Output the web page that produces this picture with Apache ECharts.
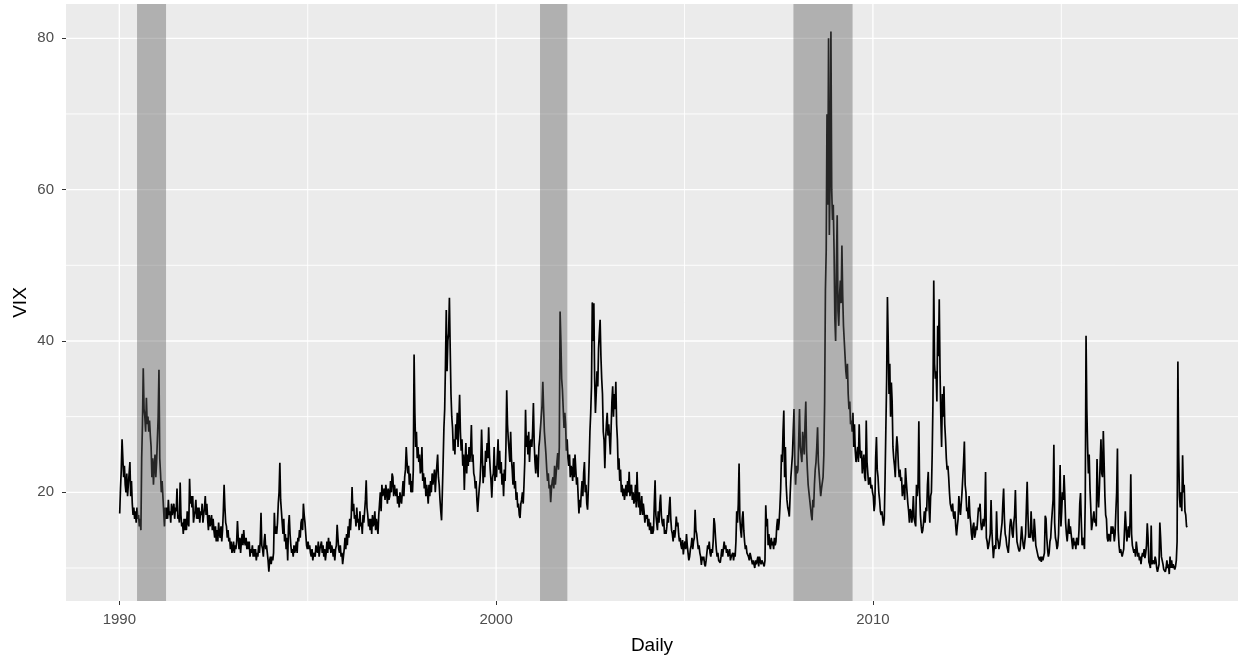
<!DOCTYPE html>
<html>
<head>
<meta charset="utf-8">
<title>VIX daily</title>
<script src="https://cdn.jsdelivr.net/npm/echarts@6/dist/echarts.min.js"></script>
<style>
  html, body { margin: 0; padding: 0; background: #ffffff; }
  #chart { width: 1238px; height: 657px; }
</style>
</head>
<body>
<div id="chart"></div>
<script>
// VIX closing levels, four readings per month (Jan..Dec), one array per year
const vix1990 = [17.2,20.5,23.0,27.0, 24.5,22.0,23.5,21.0, 20.0,22.5,19.5,21.0, 21.0,24.0,19.5,21.5, 18.5,17.0,18.0,16.5, 17.5,16.0,18.0,16.5, 17.0,15.5,16.5,15.0, 24.5,29.0,36.4,31.0, 30.0,28.0,32.5,29.0, 30.0,28.0,29.5,27.5, 26.0,22.0,24.5,21.0, 23.5,25.0,22.0,24.0];
const vix1991 = [27.0,30.0,36.2,24.5, 22.5,20.0,21.5,19.5, 17.5,15.5,18.0,16.5, 18.0,16.5,19.0,17.0, 17.5,16.0,18.5,17.0, 17.0,18.5,16.5,18.0, 17.5,20.5,16.5,17.0, 16.0,21.3,17.0,15.5, 16.0,14.5,16.5,15.0, 16.5,15.0,17.5,16.0, 15.5,21.8,18.5,19.5, 18.0,19.5,16.0,17.0];
const vix1992 = [17.5,19.0,16.5,18.0, 16.5,18.0,16.0,17.5, 17.0,18.5,16.0,17.0, 18.0,19.5,17.0,18.5, 16.5,15.0,17.0,15.5, 16.0,17.0,15.0,16.5, 15.0,14.0,15.5,13.5, 15.0,13.5,16.0,14.5, 14.0,15.5,13.5,15.0, 17.5,21.0,18.0,16.0, 15.5,14.0,15.0,13.5, 14.0,12.5,13.5,12.0];
const vix1993 = [12.5,13.5,12.0,13.0, 12.5,13.5,16.2,14.0, 12.5,14.0,12.0,13.5, 14.5,13.0,15.0,13.5, 13.0,14.0,12.5,13.5, 12.5,13.5,11.5,12.5, 12.0,13.0,11.5,12.5, 11.5,12.5,11.0,12.0, 11.5,13.0,12.0,13.5, 17.3,13.0,12.5,11.5, 13.5,14.5,12.5,13.0, 12.0,11.0,9.5,11.0];
const vix1994 = [11.5,10.5,11.5,11.0, 12.0,17.3,14.5,15.5, 14.5,16.0,18.5,20.0, 23.9,19.0,17.5,16.0, 14.5,16.5,13.5,14.5, 12.5,14.0,11.0,15.5, 17.0,14.5,13.0,12.0, 12.5,11.5,13.0,12.0, 12.5,13.5,12.0,14.0, 13.5,15.0,14.0,16.0, 16.5,15.0,18.5,17.0, 16.0,14.5,13.0,12.5];
const vix1995 = [13.5,12.5,13.0,12.0, 11.5,12.5,11.0,12.0, 12.0,11.5,13.0,12.5, 12.0,13.5,11.5,12.5, 12.5,13.5,12.0,13.0, 11.5,12.5,11.0,12.0, 13.5,12.0,14.0,12.5, 13.5,12.0,13.0,12.5, 11.5,12.5,11.0,12.5, 13.0,15.7,14.0,12.5, 12.0,13.0,11.5,12.0, 10.5,11.5,12.5,14.0];
const vix1996 = [12.5,14.5,13.0,15.5, 14.0,16.5,15.0,17.0, 20.7,17.5,18.5,16.5, 17.0,15.5,18.0,16.0, 16.5,15.0,17.5,15.5, 16.0,14.5,17.0,16.0, 17.5,19.0,21.6,18.0, 17.0,15.5,16.5,15.0, 16.5,14.5,17.0,15.5, 16.0,17.5,15.0,16.5, 16.5,14.5,17.0,18.5, 20.0,17.5,21.0,19.5];
const vix1997 = [19.5,20.5,19.0,21.0, 20.0,18.5,20.5,19.0, 19.5,21.5,20.0,22.5, 22.0,19.5,21.0,20.0, 19.5,20.5,18.5,19.5, 18.0,20.0,19.0,18.5, 20.0,21.5,19.5,22.0, 23.0,26.0,24.0,22.5, 23.5,21.0,22.5,20.0, 21.5,20.0,23.0,38.2, 30.5,26.0,28.0,24.5, 26.0,24.0,25.0,22.5];
const vix1998 = [23.0,26.0,21.5,22.5, 20.5,22.0,19.5,21.0, 20.0,18.5,21.0,19.5, 21.5,20.0,22.5,21.0, 21.0,23.0,20.0,22.0, 23.5,25.0,22.0,21.0, 19.0,17.5,16.3,20.0, 24.0,28.5,31.0,37.0, 44.1,36.0,40.0,41.0, 45.7,39.0,33.0,30.0, 28.5,25.5,27.0,25.0, 29.0,27.0,30.5,26.0];
const vix1999 = [26.0,32.9,28.0,25.5, 27.0,23.5,25.0,20.3, 24.0,26.5,22.5,25.0, 23.5,26.0,24.0,25.5, 28.9,24.0,25.0,22.5, 22.0,20.5,21.5,19.0, 17.4,19.0,20.5,21.5, 24.0,28.3,24.5,21.2, 23.5,22.0,25.5,24.0, 26.5,24.5,28.6,25.0, 23.0,21.5,19.3,22.0, 22.5,26.0,21.5,23.5];
const vix2000 = [22.0,24.5,27.0,23.0, 25.5,22.5,24.0,21.0, 22.5,19.5,23.0,21.5, 26.0,33.5,29.0,27.0, 25.5,24.0,28.0,24.5, 23.0,21.0,24.0,20.5, 21.5,19.0,20.0,18.0, 18.5,17.0,16.6,18.5, 19.0,20.0,18.5,21.0, 24.0,30.9,26.0,27.5, 25.0,28.0,24.0,26.5, 27.0,26.0,28.0,31.8];
const vix2001 = [26.5,24.0,22.5,25.0, 24.0,22.0,26.0,27.0, 27.0,30.0,31.5,34.6, 31.0,28.0,26.5,25.0, 23.0,21.5,22.5,20.5, 21.0,18.7,20.5,21.5, 22.0,20.5,23.5,21.0, 22.5,24.0,25.2,23.0, 26.0,43.9,40.0,35.0, 33.5,31.0,28.5,30.5, 29.0,25.5,27.0,24.5, 23.5,25.0,22.0,23.5];
const vix2002 = [23.0,21.5,24.5,22.0, 25.0,23.0,21.0,22.0, 19.5,17.2,19.0,18.0, 20.0,21.5,19.5,22.5, 24.0,20.0,21.0,18.5, 17.7,20.5,24.0,28.0, 30.5,34.0,45.1,40.0, 45.0,35.0,30.5,33.0, 36.0,34.0,39.0,41.0, 42.8,38.0,35.0,33.0, 28.0,26.9,23.2,27.0, 29.0,30.5,27.5,29.0];
const vix2003 = [27.0,25.0,28.5,32.0, 34.0,30.0,33.0,31.0, 34.6,29.0,27.0,23.0, 24.5,21.5,23.0,20.0, 21.0,19.5,20.5,19.0, 20.0,21.0,19.5,21.5, 20.0,22.7,19.5,20.5, 21.0,19.0,20.0,18.5, 19.0,21.0,18.0,22.7, 19.5,18.0,20.0,17.0, 18.0,19.5,17.0,18.5, 17.5,16.0,17.0,16.5];
const vix2004 = [17.0,15.5,16.5,15.0, 16.0,14.5,15.5,14.5, 15.0,18.5,21.6,17.0, 16.0,15.0,17.5,16.0, 18.5,19.7,17.0,16.0, 15.5,16.5,14.5,15.0, 14.5,15.5,17.0,16.0, 18.0,19.4,16.5,15.0, 14.5,13.5,15.0,14.0, 15.0,16.8,15.5,16.0, 14.5,13.5,14.0,13.0, 12.5,13.7,11.8,13.0];
const vix2005 = [13.5,12.5,14.5,13.0, 12.0,11.0,11.5,12.5, 13.0,14.0,12.5,13.5, 14.0,17.7,15.0,14.5, 13.5,12.5,13.0,12.0, 11.5,10.4,11.5,11.0, 11.5,10.5,10.2,11.0, 12.0,13.0,12.5,13.5, 12.0,11.5,12.5,12.0, 13.5,16.6,15.8,14.0, 12.5,11.5,12.0,11.0, 11.0,10.7,11.5,12.5];
const vix2006 = [11.5,12.5,13.5,12.5, 13.0,12.0,12.5,11.5, 11.5,12.5,11.0,11.5, 11.5,12.0,11.0,12.0, 11.5,13.5,17.5,16.0, 18.5,23.8,16.5,15.0, 14.0,16.5,17.5,15.0, 13.5,12.5,13.0,12.0, 12.0,11.5,11.0,12.0, 11.5,11.0,10.5,11.0, 10.5,10.0,11.0,10.5, 10.5,11.5,10.2,11.5];
const vix2007 = [11.5,10.5,11.0,10.8, 10.5,10.2,11.0,18.3, 15.5,16.5,13.0,14.5, 13.0,12.5,14.0,13.0, 13.5,12.5,14.0,13.0, 13.5,15.5,16.5,15.0, 16.0,18.0,20.5,25.0, 24.0,28.0,30.8,22.0, 26.0,21.0,19.0,18.0, 17.5,16.8,19.5,22.0, 22.0,25.0,28.0,31.0, 24.0,21.0,23.5,22.5];
const vix2008 = [23.0,27.0,31.0,26.0, 25.0,24.0,28.0,26.5, 25.0,29.0,32.0,25.5, 23.0,21.0,20.0,19.0, 18.0,17.0,16.3,19.0, 18.0,21.0,23.0,24.0, 26.0,28.6,24.0,22.5, 21.0,19.5,20.5,20.5, 22.0,25.0,32.0,46.7, 52.0,69.95,58.0,80.0, 54.0,62.0,80.9,60.0, 56.0,58.0,52.0,43.0];
const vix2009 = [40.0,50.0,56.6,44.0, 42.0,46.0,48.0,45.0, 52.6,46.0,42.0,40.0, 38.0,36.0,35.0,37.0, 33.0,31.0,32.0,29.0, 29.5,28.0,30.5,26.0, 29.0,25.5,24.0,25.0, 26.0,24.0,29.0,25.5, 24.5,25.5,22.5,24.0, 25.0,22.0,21.5,29.5, 24.0,22.5,21.0,21.5, 22.0,20.5,21.0,20.0];
const vix2010 = [19.5,17.5,18.5,24.5, 27.3,23.0,22.0,20.0, 19.0,17.5,17.0,17.5, 16.5,15.6,16.5,22.0, 22.0,35.0,45.8,40.0, 33.0,37.0,30.0,34.5, 32.0,26.0,24.5,23.5, 22.0,25.5,27.4,26.0, 23.5,22.0,23.0,21.5, 22.0,19.5,20.5,21.0, 19.0,23.2,21.5,20.0, 18.5,17.5,16.0,17.8];
const vix2011 = [17.5,16.0,17.0,19.5, 16.5,16.0,15.5,21.0, 19.5,21.0,29.4,20.0, 17.0,15.5,14.6,15.0, 16.0,17.5,16.0,18.0, 17.5,21.0,22.7,18.0, 16.0,19.5,20.0,25.0, 32.0,48.0,37.0,35.0, 36.0,32.0,42.0,38.0, 45.5,36.0,30.0,26.0, 33.0,30.0,34.0,29.0, 27.0,24.5,23.0,23.5];
const vix2012 = [22.0,20.0,18.5,18.0, 17.5,18.5,17.0,16.5, 17.5,15.5,14.3,15.5, 16.5,19.5,18.0,17.0, 17.0,20.0,22.0,24.0, 26.7,21.0,20.0,17.5, 18.0,16.5,19.5,17.0, 16.0,14.5,13.7,15.5, 16.0,14.0,14.5,15.5, 15.0,16.5,18.0,17.5, 18.5,16.0,15.0,15.5, 16.5,15.5,17.0,22.7];
const vix2013 = [14.0,13.5,12.5,13.0, 12.9,14.5,19.0,15.0, 13.0,11.3,12.7,13.0, 12.5,17.5,14.0,13.5, 12.5,13.0,14.0,15.0, 16.0,18.5,20.5,16.5, 14.5,14.0,13.0,12.5, 12.0,13.5,15.5,16.5, 16.0,14.5,14.0,16.0, 17.0,20.3,16.0,13.5, 13.0,12.5,12.2,12.5, 14.0,15.5,14.0,13.0];
const vix2014 = [12.5,12.5,14.5,18.0, 21.4,17.0,14.0,14.5, 14.0,17.5,15.0,14.0, 13.5,16.5,15.0,13.0, 13.0,12.0,11.5,11.5, 11.0,11.5,10.8,11.5, 11.0,11.5,12.0,16.9, 16.5,14.0,12.5,11.5, 12.0,13.5,14.0,16.0, 16.0,19.0,26.3,16.0, 14.0,13.5,12.5,13.0, 14.5,19.0,23.6,15.5];
const vix2015 = [17.5,20.0,19.0,22.3, 19.5,16.0,14.5,13.5, 15.0,16.5,14.5,15.5, 14.5,13.5,12.5,14.0, 13.0,13.5,12.5,14.0, 14.0,13.0,15.0,18.5, 19.9,16.0,13.0,14.0, 13.5,12.5,19.0,40.7, 31.0,26.0,22.5,25.0, 20.5,18.0,15.0,15.0, 15.0,17.5,16.0,16.5, 15.5,24.4,20.0,18.0];
const vix2016 = [20.5,24.0,27.0,22.5, 22.0,28.1,24.0,19.5, 17.0,16.5,14.0,13.5, 14.5,14.0,13.5,15.5, 14.5,15.5,15.0,13.5, 14.5,17.5,20.0,25.8, 15.0,13.0,12.0,12.5, 12.5,11.5,12.0,12.5, 12.5,17.5,15.5,13.5, 13.5,15.5,14.0,16.0, 22.4,14.5,13.0,12.5, 12.0,12.5,11.5,13.5];
const vix2017 = [12.5,11.5,12.0,11.0, 11.5,10.5,11.5,12.0, 11.5,12.5,11.3,12.0, 13.0,15.9,14.0,10.8, 10.5,10.0,15.6,10.5, 10.5,11.0,10.5,11.5, 11.0,10.0,9.5,10.0, 10.5,16.0,14.0,11.5, 11.0,10.5,9.8,10.0, 9.5,10.0,11.0,10.0, 10.5,9.2,11.5,10.0, 11.0,10.0,10.5,10.5];
const vix2018 = [9.8,10.2,11.0,13.5, 37.3,25.0,19.5,18.0, 20.0,17.5,24.9,20.0, 21.0,17.5,17.0,15.5, 15.4];

const years = [1990,1991,1992,1993,1994,1995,1996,1997,1998,1999,2000,2001,2002,2003,
               2004,2005,2006,2007,2008,2009,2010,2011,2012,2013,2014,2015,2016,2017,2018];
const yearly = [vix1990,vix1991,vix1992,vix1993,vix1994,vix1995,vix1996,vix1997,vix1998,vix1999,
                vix2000,vix2001,vix2002,vix2003,vix2004,vix2005,vix2006,vix2007,vix2008,vix2009,
                vix2010,vix2011,vix2012,vix2013,vix2014,vix2015,vix2016,vix2017,vix2018];
const stepsPerYear = 48;

// NBER recessions, in decimal years
const recessionStart = [1990.47, 2001.165, 2007.89];
const recessionEnd   = [1991.24, 2001.89, 2009.46];

// Axis breaks
const xMajor = [1990, 2000, 2010];
const xMinor = [1995, 2005, 2015];
const yMajor = [20, 40, 60, 80];
const yMinor = [10, 30, 50, 70];

const X_MIN = 1988.585, X_MAX = 2019.689;
const Y_MIN = 5.64, Y_MAX = 84.53;

const series = [];
years.forEach((y, k) => {
  yearly[k].forEach((v, i) => series.push([y + (i + 0.5) / stepsPerYear, v]));
});

const FONT = "'Liberation Sans', Arial, sans-serif";

function vLines(width) {
  return function (params, api) {
    const x = api.value(0);
    const a = api.coord([x, Y_MAX]);
    const b = api.coord([x, Y_MIN]);
    return { type: 'line', shape: { x1: a[0], y1: a[1], x2: b[0], y2: b[1] },
             style: { stroke: '#FFFFFF', lineWidth: width } };
  };
}
function hLines(width) {
  return function (params, api) {
    const y = api.value(1);
    const a = api.coord([X_MIN, y]);
    const b = api.coord([X_MAX, y]);
    return { type: 'line', shape: { x1: a[0], y1: a[1], x2: b[0], y2: b[1] },
             style: { stroke: '#FFFFFF', lineWidth: width } };
  };
}

const chart = echarts.init(document.getElementById('chart'), null, { renderer: 'canvas' });
chart.setOption({
  animation: false,
  backgroundColor: '#FFFFFF',
  textStyle: { fontFamily: FONT },
  grid: { left: 66, right: 0, top: 4, bottom: 56, show: true,
          outerBoundsMode: 'none', containLabel: false,
          backgroundColor: '#EBEBEB', borderWidth: 0 },
  xAxis: {
    type: 'value', min: X_MIN, max: X_MAX,
    name: 'Daily', nameLocation: 'middle', nameGap: 35,
    nameTextStyle: { color: '#000000', fontSize: 19, fontFamily: FONT },
    axisLine: { show: false },
    axisTick: { show: true, length: 4, customValues: xMajor,
                lineStyle: { color: '#333333', width: 1 } },
    axisLabel: { customValues: xMajor, formatter: v => String(Math.round(v)),
                 color: '#4D4D4D', fontSize: 15, margin: 11, fontFamily: FONT },
    splitLine: { show: false }
  },
  yAxis: {
    type: 'value', min: Y_MIN, max: Y_MAX,
    name: 'VIX', nameLocation: 'middle', nameGap: 36, nameRotate: 90,
    nameMoveOverlap: false,
    nameTextStyle: { color: '#000000', fontSize: 19, fontFamily: FONT },
    axisLine: { show: false },
    axisTick: { show: true, length: 4, customValues: yMajor,
                lineStyle: { color: '#333333', width: 1 } },
    axisLabel: { customValues: yMajor, formatter: v => String(Math.round(v)),
                 color: '#4D4D4D', fontSize: 15, margin: 12, fontFamily: FONT },
    splitLine: { show: false }
  },
  series: [
    { type: 'custom', z: 1, silent: true, renderItem: vLines(0.9),
      data: xMinor.map(v => [v, Y_MIN]) },
    { type: 'custom', z: 1, silent: true, renderItem: hLines(0.9),
      data: yMinor.map(v => [X_MIN, v]) },
    { type: 'custom', z: 1, silent: true, renderItem: vLines(1.3),
      data: xMajor.map(v => [v, Y_MIN]) },
    { type: 'custom', z: 1, silent: true, renderItem: hLines(1.3),
      data: yMajor.map(v => [X_MIN, v]) },
    { type: 'line', z: 2, silent: true, data: series, showSymbol: false,
      lineStyle: { color: '#000000', width: 1.7 } },
    { type: 'custom', z: 3, silent: true,
      data: recessionStart.map((s, i) => [s, recessionEnd[i]]),
      renderItem: function (params, api) {
        const a = api.coord([api.value(0), Y_MAX]);
        const b = api.coord([api.value(1), Y_MIN]);
        return { type: 'rect',
                 shape: { x: a[0], y: a[1], width: b[0] - a[0], height: b[1] - a[1] },
                 style: { fill: 'rgba(92,92,92,0.41)' } };
      } }
  ]
});
</script>
</body>
</html>
